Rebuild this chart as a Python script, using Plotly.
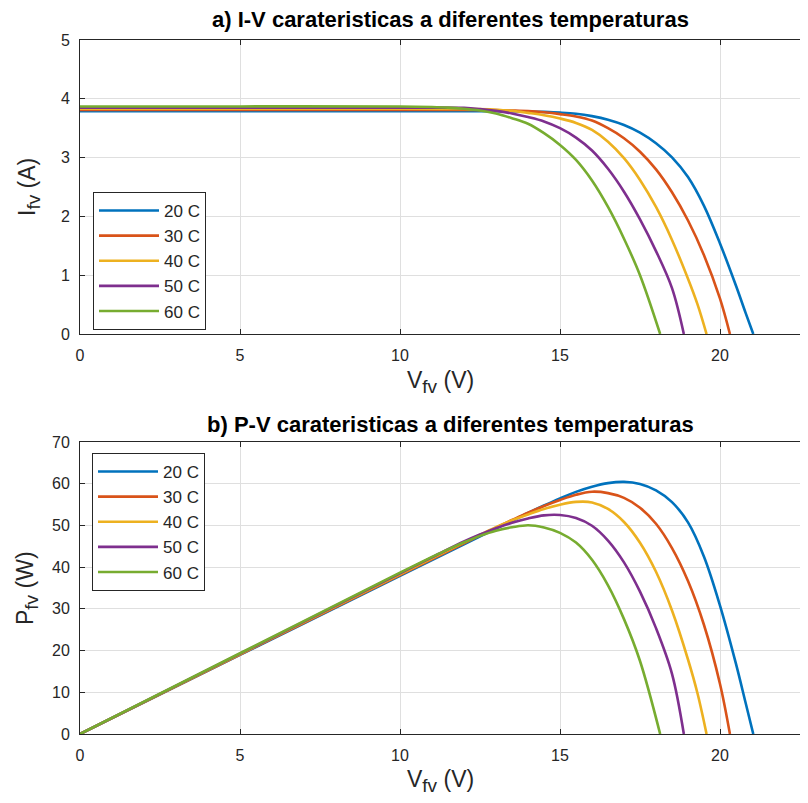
import plotly.graph_objects as go

temps = ["20 C", "30 C", "40 C", "50 C", "60 C"]
colors = ["#0072BD", "#D95319", "#EDB120", "#7E2F8E", "#77AC30"]

# I-V data (voltage V, current A)
v20 = [0, 5, 10, 12, 13, 14, 14.5, 15, 15.5, 16, 16.5, 17, 17.5, 18, 18.5, 19, 19.5, 20, 20.5, 20.8, 21.04]
i20 = [3.79, 3.79, 3.79, 3.79, 3.788, 3.785, 3.777, 3.765, 3.745, 3.705, 3.645, 3.555, 3.425, 3.245, 3.005, 2.67, 2.18, 1.54, 0.82, 0.36, 0]

v30 = [0, 5, 10, 12, 13, 13.5, 14, 14.5, 15, 15.5, 16, 16.5, 17, 17.5, 18, 18.5, 19, 19.5, 20, 20.31]
i30 = [3.81, 3.81, 3.81, 3.81, 3.807, 3.80, 3.79, 3.77, 3.74, 3.70, 3.63, 3.50, 3.33, 3.10, 2.80, 2.41, 1.93, 1.34, 0.60, 0]

v40 = [0, 5, 10, 12, 13, 13.5, 14, 14.5, 15, 15.5, 16, 16.5, 17, 17.5, 18, 18.5, 19, 19.3, 19.58]
i40 = [3.83, 3.83, 3.83, 3.828, 3.815, 3.795, 3.76, 3.72, 3.665, 3.59, 3.47, 3.27, 2.99, 2.62, 2.16, 1.60, 0.94, 0.50, 0]

v50 = [0, 5, 10, 11, 12, 12.5, 13, 13.5, 14, 14.5, 15, 15.5, 16, 16.5, 17, 17.5, 18, 18.5, 18.87]
i50 = [3.85, 3.85, 3.85, 3.85, 3.845, 3.825, 3.795, 3.75, 3.69, 3.615, 3.50, 3.34, 3.12, 2.81, 2.42, 1.95, 1.41, 0.78, 0]

v60 = [0, 5, 10, 11, 11.5, 12, 12.5, 13, 13.5, 14, 14.5, 15, 15.5, 16, 16.5, 17, 17.5, 18.13]
i60 = [3.87, 3.87, 3.87, 3.86, 3.85, 3.83, 3.80, 3.75, 3.67, 3.575, 3.415, 3.215, 2.96, 2.61, 2.16, 1.62, 1.00, 0]

volts = [v20, v30, v40, v50, v60]
currents = [i20, i30, i40, i50, i60]

title_a = "a) I-V carateristicas a diferentes temperaturas"
title_b = "b) P-V carateristicas a diferentes temperaturas"
SUB = "<sub><span style='font-size:19px'>fv</span></sub>"
xlabel = "V" + SUB + " (V)"
ylabel_a = "I" + SUB + " (A)"
ylabel_b = "P" + SUB + " (W)"

FONT = "Liberation Sans, Arial, sans-serif"
TXT = "#262626"
GRID = "rgb(223,223,223)"

# the page adds an 8 px body margin, so figure coordinates = screen - 8
OFF = 8
W, H = 808 - OFF, 803 - OFF
L = 80 - OFF
top_y = (40, 334)   # screen pixels of top plot (y=5 .. y=0)
bot_y = (442, 734)  # screen pixels of bottom plot (y=70 .. y=0)


def dom(sy):
    return [1 - (sy[1] - OFF) / H, 1 - (sy[0] - OFF) / H]


def px(sx):
    return (sx - OFF - L) / (W - L)


def py_(sy):
    return 1 - (sy - OFF) / H


fig = go.Figure()
for k in range(5):
    fig.add_trace(go.Scatter(
        x=volts[k], y=currents[k], mode="lines", name=temps[k],
        line=dict(color=colors[k], width=2.6, shape="spline", smoothing=1.0),
        xaxis="x", yaxis="y", legend="legend"))
for k in range(5):
    p = [v * i for v, i in zip(volts[k], currents[k])]
    fig.add_trace(go.Scatter(
        x=volts[k], y=p, mode="lines", name=temps[k],
        line=dict(color=colors[k], width=2.6, shape="spline", smoothing=1.0),
        xaxis="x2", yaxis="y2", legend="legend2"))

xcommon = dict(range=[0, 22.75], tickvals=[0, 5, 10, 15, 20], ticks="inside", ticklen=5,
               tickcolor=TXT, showline=True, linecolor=TXT, linewidth=1, mirror="ticks",
               showgrid=True, gridcolor=GRID, gridwidth=1, zeroline=False, automargin=False,
               tickfont=dict(family=FONT, size=16, color=TXT), ticklabelstandoff=7)
ycommon = dict(ticks="inside", ticklen=5, tickcolor=TXT, showline=True, linecolor=TXT,
               linewidth=1, mirror=False, showgrid=True, gridcolor=GRID, gridwidth=1,
               zeroline=False, automargin=False,
               tickfont=dict(family=FONT, size=16, color=TXT), ticklabelstandoff=6)

leg = dict(xanchor="left", yanchor="top", bgcolor="white", bordercolor=TXT, borderwidth=1,
           itemwidth=60, font=dict(family=FONT, size=17, color=TXT), tracegroupgap=0)


def ann(text, x, y, size, angle=0, bold=False):
    return dict(text=("<b>%s</b>" % text) if bold else text, x=px(x), y=py_(y),
                xref="paper", yref="paper", xanchor="center", yanchor="middle",
                showarrow=False, textangle=angle,
                font=dict(family=FONT, size=size, color="black" if bold else TXT))


fig.update_layout(
    width=W, height=H, margin=dict(l=L, r=0, t=0, b=0, autoexpand=False),
    paper_bgcolor="white", plot_bgcolor="white",
    font=dict(family=FONT, color=TXT),
    xaxis=dict(domain=[0, 1], anchor="y", **xcommon),
    xaxis2=dict(domain=[0, 1], anchor="y2", **xcommon),
    yaxis=dict(domain=dom(top_y), anchor="x", range=[0, 5], dtick=1, **ycommon),
    yaxis2=dict(domain=dom(bot_y), anchor="x2", range=[0, 70], dtick=10, **ycommon),
    legend=dict(x=px(93), y=py_(192), **leg),
    legend2=dict(x=px(92), y=py_(453), **leg),
    showlegend=True,
    annotations=[
        ann(title_a, 450, 20, 22, bold=True),
        ann(title_b, 450, 424, 22, bold=True),
        ann(xlabel, 440, 382, 23),
        ann(xlabel, 440, 781, 23),
        ann(ylabel_a, 29, 187, 23, angle=-90),
        ann(ylabel_b, 27, 588, 23, angle=-90),
    ],
)

fig.write_html("out.html")
